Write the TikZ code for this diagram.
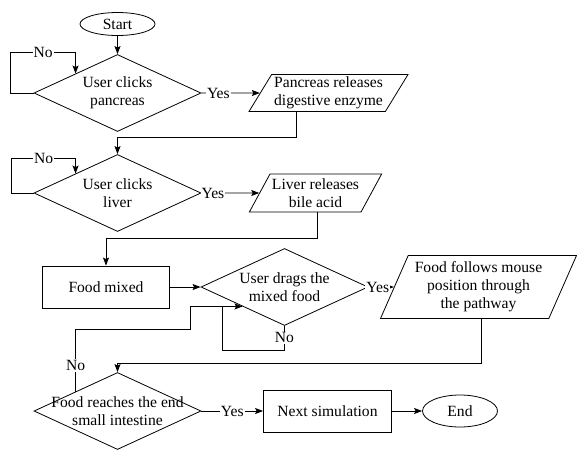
\documentclass[tikz,border=0pt]{standalone}
\usepackage{fontspec}
\setmainfont{Liberation Serif}
\usetikzlibrary{shapes.geometric,arrows.meta,positioning}

\begin{document}
\begin{tikzpicture}[x=1pt,y=1pt,on grid,
    font=\fontsize{15.6}{18}\selectfont,
    line width=0.8pt,>={Stealth[length=8pt,width=6pt,inset=1.5pt]},
    terminal/.style={draw,ellipse,minimum width=75pt,inner sep=0pt},
    decision/.style={draw,diamond,shape aspect=2.2,minimum width=167pt,minimum height=77pt,inner sep=0pt,align=center},
    process/.style={draw,rectangle,minimum width=127pt,minimum height=42pt},
    io/.style={draw,trapezium,trapezium stretches body,trapezium left angle=58,trapezium right angle=122,inner sep=2pt,align=center},
    lbl/.style={fill=white,inner sep=1pt}]
    \useasboundingbox (0,0) rectangle (577,-451);

    \node[terminal,minimum height=23pt] (start) at (117.5,-24) {Start};
    \node[decision] (d1) [below=69pt of start] {User clicks\\pancreas};
    \node[io,minimum width=159pt,minimum height=37pt] (p1) [right=211pt of d1] {Pancreas releases\\digestive enzyme};
    \node[decision] (d2) [below=100pt of d1] {User clicks\\liver};
    \node[io,minimum width=124pt,minimum height=38pt] (p2) [right=198pt of d2] {Liver releases\\bile acid};
    \node[process] (food) [below left=94pt and 11.5pt of d2] {Food mixed};
    \node[decision] (d3) [right=178.5pt of food] {User drags the\\mixed food};
    \node[io,trapezium left angle=63,trapezium right angle=117,minimum width=196pt,minimum height=63pt] (p3) [right=194pt of d3] {Food follows mouse\\position through\\the pathway};
    \node[decision] (d4) [below=218pt of d2] {\makebox[0pt]{Food reaches the end}\\\makebox[0pt]{small intestine}};
    \node[process,minimum width=128pt] (next) [right=210pt of d4] {Next simulation};
    \node[terminal,minimum height=32pt] (finish) [right=132.5pt of next] {End};

    \draw[->] (start) -- (d1);
    \draw[->] (d1.west) -- ++(-23,0) |- node[lbl,pos=0.75]{No} ([yshift=21pt]d1.north west) -- (d1.north west);
    \draw[->] (d1.east) -- node[lbl,pos=0.29]{Yes} (p1);
    \draw[->] ([xshift=-32.5pt]p1.south) -- ++(0,-25) -| (d2.north);
    \draw[->] (d2.west) -- ++(-22,0) |- node[lbl,pos=0.75]{No} ([yshift=15pt]d2.north west) -- (d2.north west);
    \draw[->] (d2.east) -- node[lbl,pos=0.2]{Yes} (p2);
    \draw[->] ([xshift=2pt]p2.south) -- ++(0,-26) -| (food.north);
    \draw[->] (food) -- (d3);
    \draw[->] (d3.east) -- node[lbl,pos=0.37]{Yes} (p3);
    \coordinate (m3) at ([xshift=-20pt]d3.south west);
    \draw[->] (d3.south) -- ++(0,-24) node[lbl,midway]{No} -| (m3) -- (d3.south west);
    \draw (d4.north west) -- node[lbl,pos=0.42]{No} ++(0,62) -| ([xshift=-32pt]m3) -- (m3);
    \draw[->] ([xshift=3pt]p3.south) -- ++(0,-44) -| (d4.north);
    \draw[->] (d4.east) -- node[lbl]{Yes} (next);
    \draw[->] (next) -- (finish);
\end{tikzpicture}
\end{document}
